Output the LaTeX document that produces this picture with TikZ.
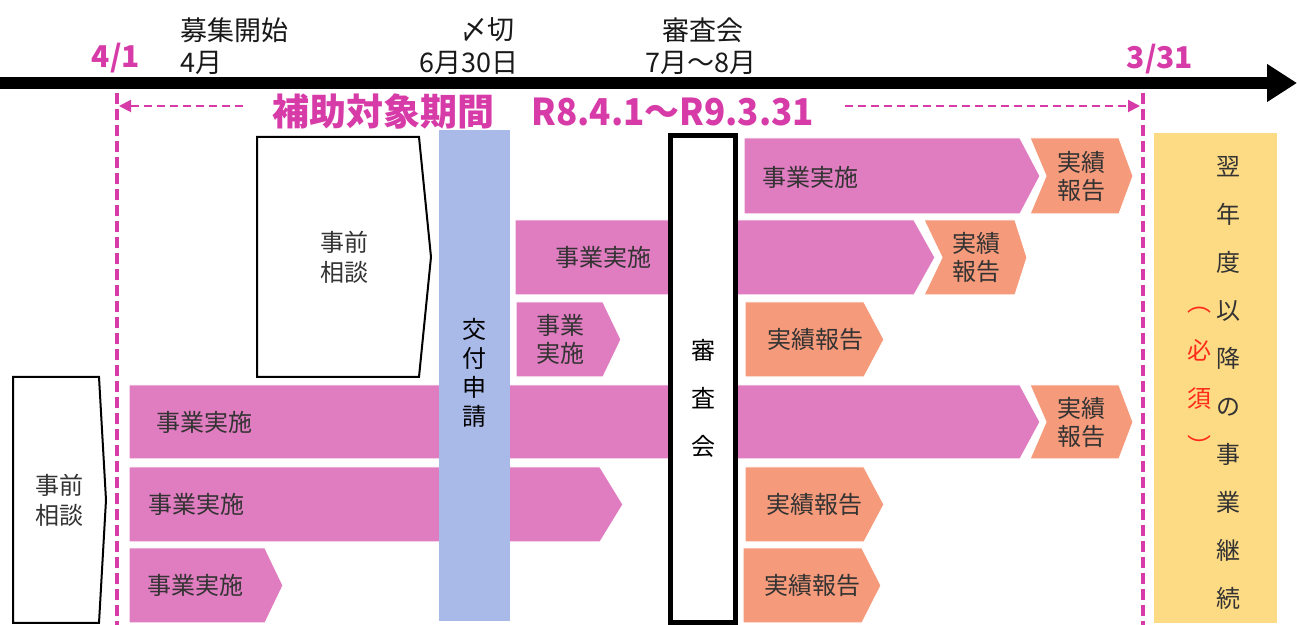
\documentclass[tikz,border=0pt]{standalone}
\usepackage{fontspec}
\setmainfont{Noto Sans CJK JP}
\usepackage{graphicx}
\usepackage{xcolor}
\usepackage{tikz}
\usetikzlibrary{arrows.meta, positioning}

\definecolor{jisshiPink}{HTML}{E07CC0}
\definecolor{hokokuOrange}{HTML}{F59A7A}
\definecolor{kofuBlue}{HTML}{A9B9E8}
\definecolor{yokuYellow}{HTML}{FDDA84}
\definecolor{kikanMagenta}{HTML}{D63BA8}
\definecolor{hissuRed}{HTML}{FF2A1A}
\definecolor{boxText}{HTML}{333333}

\tikzset{
    timeline/.style={line width=6pt, -{Triangle[length=15pt, width=18pt]}},
    period/.style={draw=kikanMagenta, line width=1pt, dash pattern=on 4pt off 2.5pt, -{Triangle[length=6pt, width=6pt]}},
    boundary/.style={draw=kikanMagenta, line width=1.75pt, dash pattern=on 5.5pt off 2.5pt},
    jisshi/.style={fill=jisshiPink, draw=white, line width=0.5pt},
    hokoku/.style={fill=hokokuOrange, draw=white, line width=0.5pt},
    soudan/.style={draw=black, line width=1pt, fill=white},
    kofu/.style={fill=kofuBlue},
    shinsa/.style={draw=black, line width=2.5pt, fill=white},
    yoku/.style={fill=yokuYellow},
    hdlabel/.style={font=\fontsize{13.5}{16}\selectfont, text=black!90, inner sep=0pt},
    datemark/.style={font=\fontsize{15}{18}\selectfont\bfseries, text=kikanMagenta, inner sep=0pt},
    kikan/.style={font=\fontsize{18.5}{22}\selectfont\bfseries, text=kikanMagenta, inner sep=0pt, anchor=west},
    lbl/.style={font=\fontsize{12}{14}\selectfont, text=boxText, align=center, inner sep=0pt},
    tategaki/.style={font=\fontsize{12}{24}\selectfont, text=boxText, align=center, inner sep=0pt}
}

\begin{document}
\begin{tikzpicture}[x=0.5pt, y=-0.5pt]
    \useasboundingbox (0,0) rectangle (1297,625);

    % Header
    \node[hdlabel, anchor=west] (boshu) at (180,30) {募集開始};
    \node[hdlabel, anchor=west] (boshuM) at (180,63) {4月};
    \node[hdlabel, anchor=east] (shime) at (515,30) {〆切};
    \node[hdlabel] (shimeD) at (469,63) {6月30日};
    \node[hdlabel] (shinsaH) at (703,30) {審査会};
    \node[hdlabel] (shinsaM) at (701,63) {7月～8月};
    \node[datemark] (kaishi) at (116,58) {4/1};
    \node[datemark] (shuryo) at (1160,59) {3/31};

    % Timeline
    \coordinate (tlStart) at (0,83);
    \coordinate (tlEnd) at (1297,83);
    \draw[timeline] (tlStart) -- (tlEnd);

    % Period boundaries
    \coordinate (bLtop) at (117,93);
    \coordinate (bLbot) at (117,625);
    \coordinate (bRtop) at (1143,93);
    \coordinate (bRbot) at (1143,625);
    \draw[boundary] (bLtop) -- (bLbot);
    \draw[boundary] (bRtop) -- (bRbot);

    % Period
    \coordinate (pLfrom) at (243,106);
    \coordinate (pLto) at (119,106);
    \coordinate (pRfrom) at (845,106);
    \coordinate (pRto) at (1140,106);
    \draw[period] (pLfrom) -- (pLto);
    \draw[period] (pRfrom) -- (pRto);
    \node[kikan] (kikan) at (272,111) {補助対象期間　\scalebox{0.945}[1]{R8.4.1～R9.3.31}};

    % Row 1
    \path[jisshi] (744,138) -- (1020,138) -- (1040,176) -- (1020,214) -- (744,214) -- cycle;
    \path[hokoku] (1030,138) -- (1119,138) -- (1133,176) -- (1119,214) -- (1030,214) -- (1046,176) -- cycle;
    \node[lbl] (jisshi1) at (810,177) {事業実施};
    \node[lbl] (hokoku1) at (1081,176) {実績\\報告};

    % Row 2
    \path[jisshi] (515,220) -- (914,220) -- (935,257.5) -- (914,295) -- (515,295) -- cycle;
    \path[hokoku] (924,220) -- (1015,220) -- (1027,257.5) -- (1015,295) -- (924,295) -- (942,257.5) -- cycle;
    \node[lbl] (jisshi2) at (603,257) {事業実施};
    \node[lbl] (hokoku2) at (976,257) {実績\\報告};

    % Row 3
    \path[jisshi] (516,302) -- (603,302) -- (621,339.5) -- (603,377) -- (516,377) -- cycle;
    \path[hokoku] (745,302) -- (864,302) -- (884,339.5) -- (864,377) -- (745,377) -- cycle;
    \node[lbl] (jisshi3) at (560,339) {事業\\実施};
    \node[lbl] (hokoku3) at (815,339) {実績報告};

    % Row 4
    \path[jisshi] (129,385) -- (1020,385) -- (1040,422) -- (1020,459) -- (129,459) -- cycle;
    \path[hokoku] (1030,385) -- (1119,385) -- (1133,422) -- (1119,459) -- (1030,459) -- (1046,422) -- cycle;
    \node[lbl] (jisshi4) at (204,422) {事業実施};
    \node[lbl] (hokoku4) at (1081,422) {実績\\報告};

    % Row 5
    \path[jisshi] (129,467) -- (600,467) -- (623,504.5) -- (600,542) -- (129,542) -- cycle;
    \path[hokoku] (745,467) -- (864,467) -- (884,504.5) -- (864,542) -- (745,542) -- cycle;
    \node[lbl] (jisshi5) at (196,504) {事業実施};
    \node[lbl] (hokoku5) at (814,504) {実績報告};

    % Row 6
    \path[jisshi] (129,548) -- (265,548) -- (283,585.5) -- (265,623) -- (129,623) -- cycle;
    \path[hokoku] (743,548) -- (862,548) -- (881,585.5) -- (862,623) -- (743,623) -- cycle;
    \node[lbl] (jisshi6) at (195,585) {事業実施};
    \node[lbl] (hokoku6) at (812,585) {実績報告};

    % Prior consultation
    \draw[soudan] (257,137) -- (419,137) -- (431,257) -- (419,377) -- (257,377) -- cycle;
    \node[lbl, font=\fontsize{12}{15}\selectfont] (soudanA) at (344,257) {事前\\相談};
    \draw[soudan] (13,377) -- (99,377) -- (106,500) -- (99,623) -- (13,623) -- cycle;
    \node[lbl, font=\fontsize{12}{15}\selectfont] (soudanB) at (59,500) {事前\\相談};

    % Application
    \fill[kofu] (439,130) rectangle (510,621);
    \node[lbl, text=black, font=\fontsize{12}{14.5}\selectfont] (kofu) at (474,373) {交\\付\\申\\請};

    % Review
    \draw[shinsa] (670.5,135.5) rectangle (735.5,622.5);
    \node[tategaki, text=black] (shinsa) at (703,398) {審\\査\\会};

    % Next year
    \fill[yoku] (1154,133) rectangle (1277,623);
    \node[tategaki] (yoku) at (1228,382.5) {翌\\年\\度\\以\\降\\の\\事\\業\\継\\続};
    \node[tategaki, text=hissuRed] (hissu) at (1199,381) {︵\\必\\須\\︶};
\end{tikzpicture}
\end{document}
